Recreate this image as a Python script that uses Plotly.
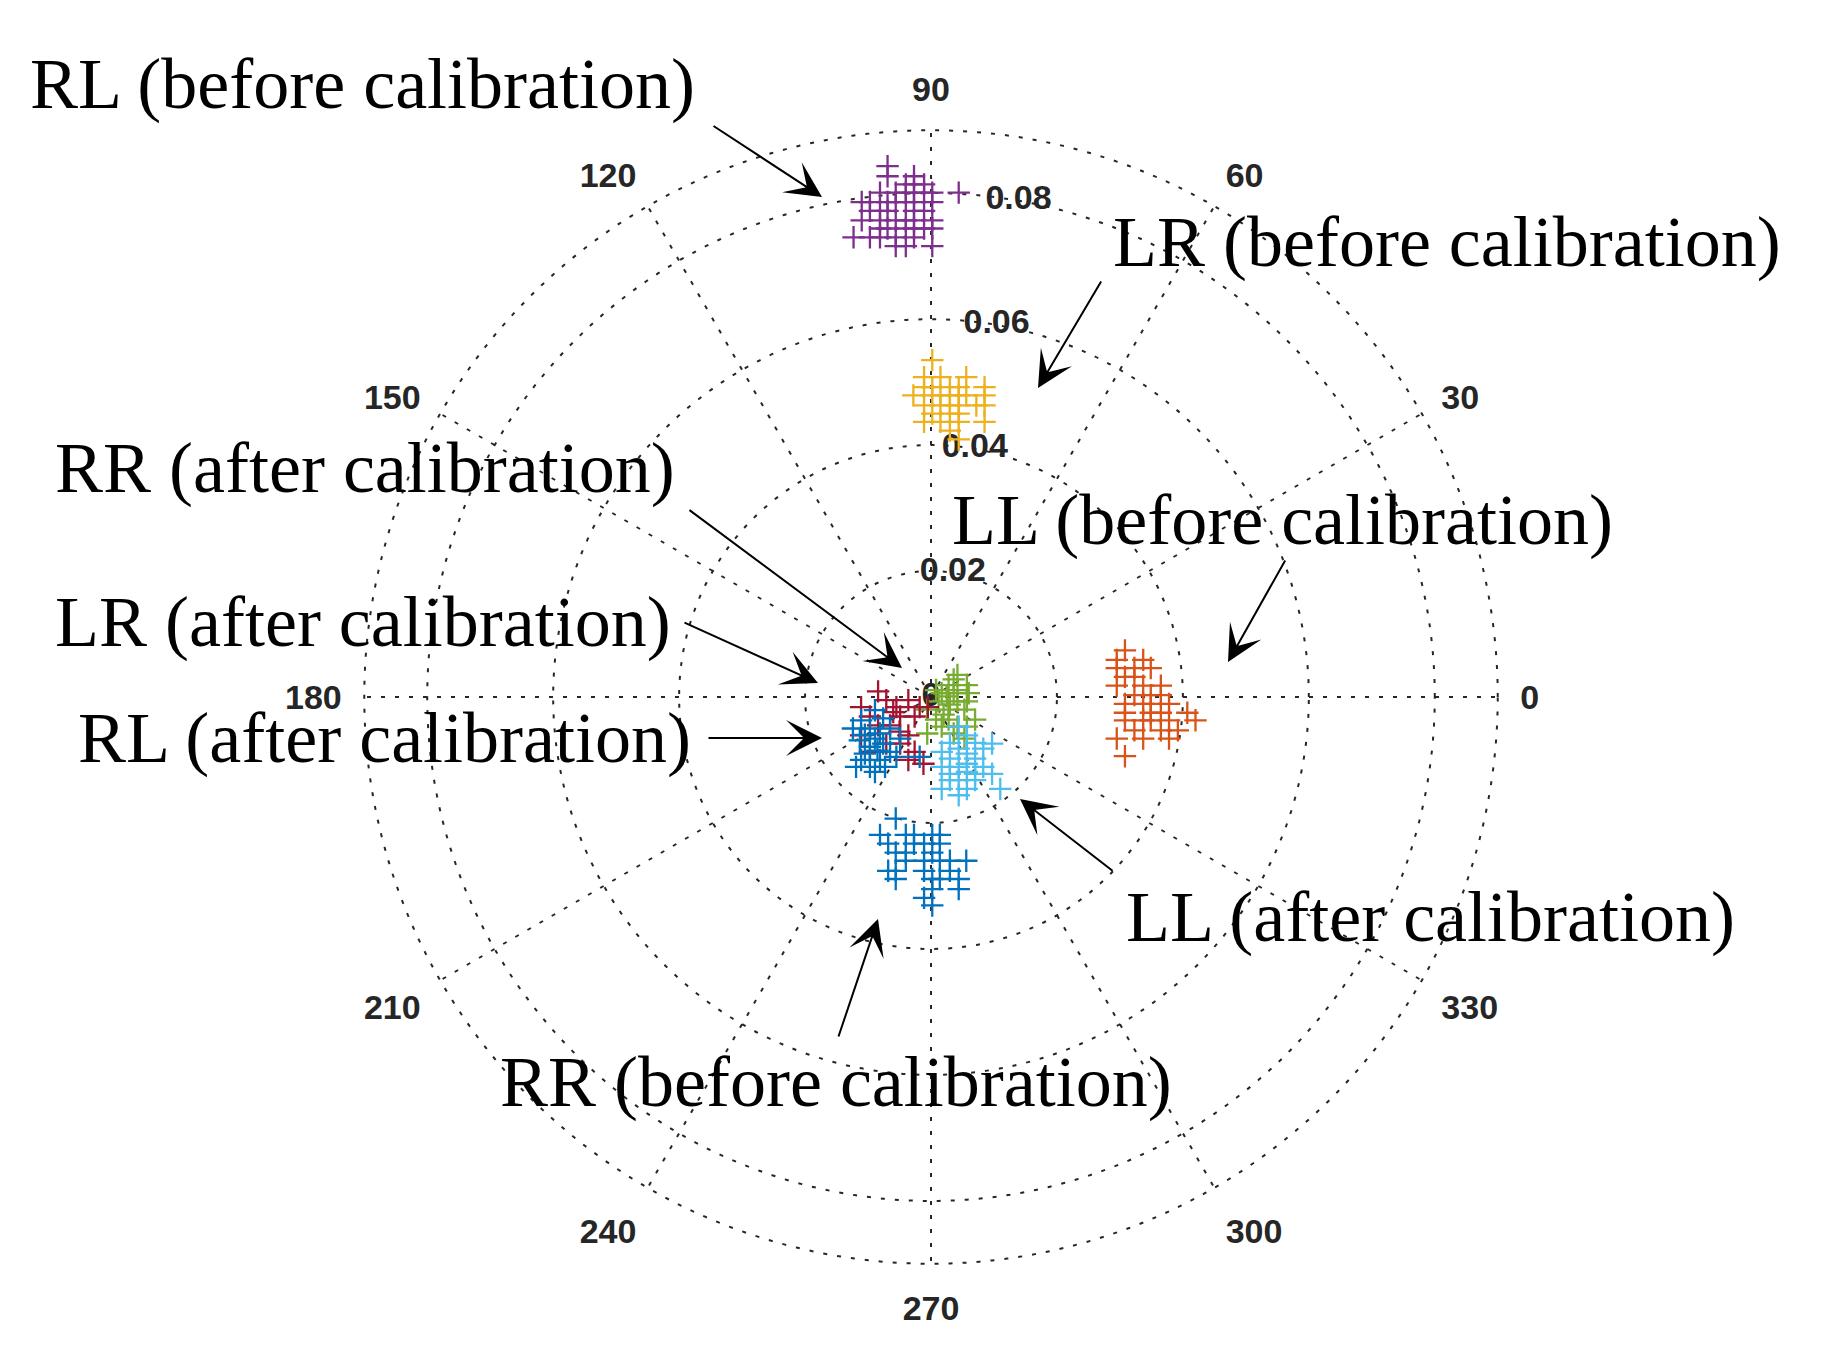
import numpy as np
import plotly.graph_objects as go

# ---------------- data (cartesian components, in thousandths) ----------------
# RR (before calibration)
rr_before_x = [-5.6, -8.1, -4.0, -2.7, 0.2, 1.4, -6.8, -2.7, -1.1, 1.4, -5.6, -4.0, 0.2,
               -4.0, -1.1, 1.4, 3.0, 5.6, -6.8, -5.6, -1.1, 3.0, -5.6, 0.2, 1.4, 4.4,
               0.2, 4.4, -1.1, 0.2]
rr_before_y = [-19.3, -21.9, -21.9, -21.9, -21.9, -21.9, -23.3, -23.3, -23.3, -23.3,
               -24.7, -24.7, -24.7, -26.0, -26.0, -26.0, -26.0, -26.0, -27.6, -27.6,
               -27.6, -27.6, -28.9, -28.9, -28.9, -28.9, -30.5, -30.5, -31.9, -33.1]
# LL (before calibration)
ll_before_x = [30.8, 29.5, 33.7, 29.5, 32.3, 34.9, 30.8, 32.3, 29.5, 33.7, 36.5, 32.3,
               34.9, 36.5, 30.8, 33.7, 34.9, 37.8, 30.8, 34.9, 36.5, 40.7, 30.8, 33.7,
               34.9, 37.8, 42.0, 32.3, 36.5, 39.2, 29.5, 33.7, 37.8, 30.8]
ll_before_y = [7.4, 5.9, 5.9, 4.6, 4.6, 4.6, 3.2, 3.2, 1.8, 1.8, 1.8, 0.3, 0.3, 0.3,
               -1.1, -1.1, -1.1, -1.1, -2.5, -2.5, -2.5, -2.5, -3.7, -3.7, -3.7, -3.7,
               -3.7, -5.3, -5.3, -5.3, -6.6, -6.6, -6.6, -9.4]
# LR (before calibration)
lr_before_x = [0.2, -1.1, 1.5, 5.6, -1.1, 0.2, 3.0, 4.4, 8.5, -2.8, 0.2, 1.5, 3.0, 4.4,
               5.6, 8.5, -1.1, 1.5, 3.0, 4.4, 7.2, 8.5, 0.2, 3.0, 4.4, -1.1, 1.5, 4.4,
               8.5, 3.0, 4.4]
lr_before_y = [53.5, 50.8, 50.8, 50.8, 49.2, 49.2, 49.2, 49.2, 49.2, 47.9, 47.9, 47.9,
               47.9, 47.9, 47.9, 47.9, 46.3, 46.3, 46.3, 46.3, 46.3, 46.3, 45.0, 45.0,
               45.0, 43.7, 43.7, 43.7, 43.7, 42.3, 40.9]
# RL (before calibration)
rl_before_x = [-6.9, -6.9, -2.7, -4.0, -2.7, -1.1, -8.1, -5.6, -4.0, -2.7, -1.1, 0.2,
               4.4, -11.0, -9.7, -6.9, -5.6, -4.0, -2.7, 0.2, -9.7, -8.1, -6.9, -2.7,
               -1.1, -11.0, -8.1, -5.6, -4.0, -2.7, 0.2, -8.1, -6.9, -4.0, -2.7, -1.1,
               0.2, -12.3, -9.7, -8.1, -5.6, -2.7, -5.6, -4.0, 0.2]
rl_before_y = [84.3, 82.7, 82.7, 81.4, 81.4, 81.4, 80.1, 80.1, 80.1, 80.1, 80.1, 80.1,
               80.1, 78.6, 78.6, 78.6, 78.6, 78.6, 78.6, 78.6, 77.2, 77.2, 77.2, 77.2,
               77.2, 75.7, 75.7, 75.7, 75.7, 75.7, 75.7, 74.4, 74.4, 74.4, 74.4, 74.4,
               74.4, 73.0, 73.0, 73.0, 73.0, 73.0, 71.6, 71.6, 71.6]
# RR (after calibration)
rr_after_x = [4.2, 2.8, 5.7, 0.8, 1.7, 3.6, 4.2, 5.7, -0.6, 2.8, 5.3, 7.0, 0.8, 2.8,
              4.2, 5.7, -0.6, 1.7, 3.6, 5.3, 1.2, 2.5, 3.6, 6.0, 4.2, 3.0, 2.0]
rr_after_y = [3.5, 1.9, 1.9, 1.1, 0.6, 0.6, -0.7, -0.7, -2.0, -2.0, -2.0, -3.6, -3.6,
              -3.6, -4.7, -4.7, -5.8, -4.7, -5.8, -6.6, -0.7, 0.1, 2.8, 0.6, 1.1, -1.2,
              -2.8]
# LL (after calibration)
ll_after_x = [4.4, 5.7, 3.0, 7.0, 9.7, 1.7, 4.4, 5.7, 8.3, 3.0, 7.0, 1.7, 4.4, 5.7,
              8.3, 3.0, 7.0, 4.4, 9.7, 1.7, 5.7, 11.0, 4.4, 3.0, 7.0, 5.7]
ll_after_y = [-4.7, -6.1, -7.3, -7.3, -7.4, -8.7, -8.2, -9.0, -8.2, -9.8, -9.8, -11.1,
              -11.1, -10.6, -11.1, -12.2, -12.2, -13.2, -12.2, -14.6, -14.6, -14.6,
              -15.6, -13.2, -13.2, -11.9]
# LR (after calibration)
lr_after_x = [-8.4, -3.6, -7.1, -11.1, -5.5, -1.8, -9.7, -4.9, -2.6, -8.4, -6.5, -3.6,
              -11.1, -7.1, -4.9, -9.7, -2.6, -3.6, -1.2, -0.5, -6.0, -5.0]
lr_after_y = [0.9, -0.5, -0.5, -1.6, -1.6, -1.6, -3.1, -3.1, -3.1, -4.5, -4.5, -6.1,
              -6.1, -7.4, -7.4, -8.7, -8.7, -10.0, -10.6, -1.6, -2.4, -5.5]
# RL (after calibration)
rl_after_x = [-12.4, -11.1, -8.9, -7.6, -9.7, -8.1, -6.5, -11.3, -9.7, -8.9, -7.6,
              -10.5, -6.5, -4.9, -11.9, -9.7, -8.1, -8.9, -7.3, -11.1, -5.5, -1.8,
              -10.5, -8.5]
rl_after_y = [-5.0, -3.7, -2.1, -3.4, -5.0, -5.8, -5.0, -6.9, -7.9, -6.6, -7.4, -9.0,
              -8.7, -6.6, -11.1, -11.1, -10.0, -11.9, -11.1, -10.0, -9.5, -9.5, -6.0,
              -8.5]

series = [
    ("RR (before calibration)", rr_before_x, rr_before_y, "#0072BD"),
    ("LL (before calibration)", ll_before_x, ll_before_y, "#D95319"),
    ("LR (before calibration)", lr_before_x, lr_before_y, "#EDB120"),
    ("RL (before calibration)", rl_before_x, rl_before_y, "#7E2F8E"),
    ("RR (after calibration)", rr_after_x, rr_after_y, "#77AC30"),
    ("LL (after calibration)", ll_after_x, ll_after_y, "#4DBEEE"),
    ("LR (after calibration)", lr_after_x, lr_after_y, "#A2142F"),
    ("RL (after calibration)", rl_after_x, rl_after_y, "#0072BD"),
]

radial_ticks = [0.02, 0.04, 0.06, 0.08, 0.09]
radial_labels = ["0", "0.02", "0.04", "0.06", "0.08"]
radial_label_r = [0, 0.02, 0.04, 0.06, 0.08]
angle_ticks = list(range(0, 360, 30))
angle_labels = [str(a) for a in angle_ticks]

# callout labels: (text, text-centre, arrow head, arrow tail) in page pixels
callouts = [
    ("RL (before calibration)", (362, 84), (822, 197), (712, 125)),
    ("LR (before calibration)", (1447, 242), (1038, 388), (1102, 280)),
    ("RR (after calibration)", (365, 468), (902, 668), (688, 509)),
    ("LL (before calibration)", (1282, 520), (1228, 662), (1286, 559)),
    ("LR (after calibration)", (363, 622), (818, 683), (683, 622)),
    ("RL (after calibration)", (384, 738), (822, 738), (707, 738)),
    ("LL (after calibration)", (1430, 917), (1020, 799), (1114, 872)),
    ("RR (before calibration)", (836, 1082), (878, 919), (838, 1038)),
]

OFF = 8                      # default page margin of the html body
W, H = 1824 - OFF, 1352 - OFF
CX, CY, R = 931 - OFF, 697 - OFF, 568


def px(x):
    return (x - OFF) / W


def py(y):
    return 1 - (y - OFF) / H


label_font = dict(family="Liberation Sans, Arial", size=34, color="#262626",
                  weight="bold")

fig = go.Figure()

fig.add_trace(go.Scatterpolar(
    r=radial_label_r, theta=[80] * len(radial_label_r), mode="text",
    text=radial_labels, textposition="middle center",
    textfont=label_font, showlegend=False, hoverinfo="skip"))

for name, xs, ys, col in series:
    x = np.array(xs) / 1000.0
    y = np.array(ys) / 1000.0
    fig.add_trace(go.Scatterpolar(
        r=np.hypot(x, y), theta=np.degrees(np.arctan2(y, x)),
        mode="markers", name=name,
        marker=dict(symbol="cross-thin", size=16, color=col,
                    line=dict(width=2.3, color=col)),
        showlegend=False))

annotations = []
for text, (tx, ty), (hx, hy), (sx, sy) in callouts:
    annotations.append(dict(
        x=px(tx), y=py(ty), xref="paper", yref="paper", text=text,
        showarrow=False, xanchor="center", yanchor="middle",
        font=dict(family="Liberation Serif, Times New Roman, serif", size=72,
                  color="black")))
    annotations.append(dict(
        x=px(hx), y=py(hy), xref="paper", yref="paper", text="",
        showarrow=True, arrowhead=3, arrowsize=3.0, arrowwidth=2,
        arrowcolor="black", ax=sx - hx, ay=sy - hy))

grid = dict(gridcolor="#262626", gridwidth=1.6, griddash="4px,10px")

fig.update_layout(
    width=W, height=H,
    margin=dict(l=0, r=0, t=0, b=0),
    paper_bgcolor="white",
    showlegend=False,
    annotations=annotations,
    polar=dict(
        domain=dict(x=[(CX - R) / W, (CX + R) / W],
                    y=[(H - CY - R) / H, (H - CY + R) / H]),
        bgcolor="white",
        radialaxis=dict(range=[0, 0.0902], tickvals=radial_ticks,
                        showticklabels=False, ticks="", showline=False,
                        angle=80, **grid),
        angularaxis=dict(tickvals=angle_ticks, ticktext=angle_labels,
                         direction="counterclockwise", rotation=0,
                         showline=False, ticks="outside", ticklen=14,
                         tickcolor="rgba(0,0,0,0)", tickfont=label_font,
                         **grid),
    ),
)

fig.write_html("out.html")
